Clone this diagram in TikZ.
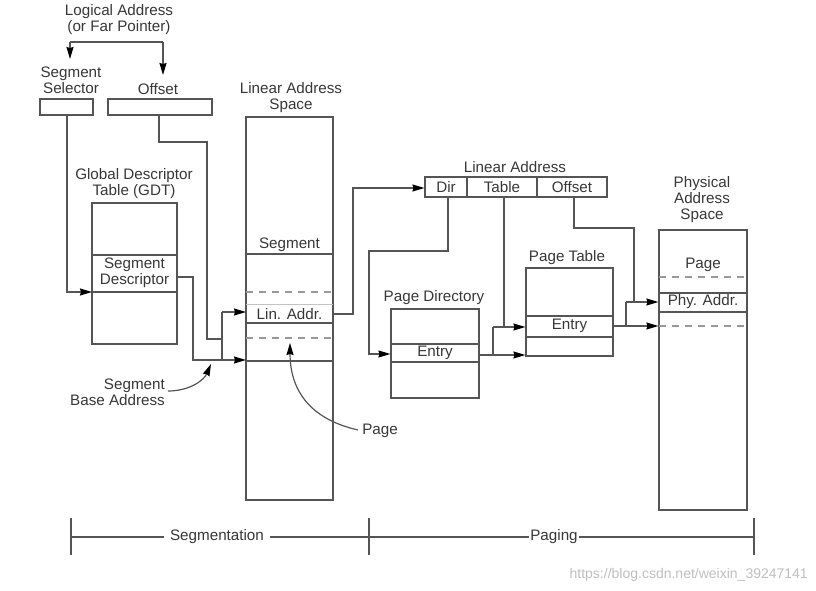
\documentclass[tikz,border=0pt]{standalone}
\usepackage{fontspec}
\setmainfont{Liberation Sans}
\usetikzlibrary{arrows.meta}
\definecolor{ln}{RGB}{85,85,85}
\definecolor{tx}{RGB}{55,55,55}
\tikzset{
  every node/.style={text=tx, font=\fontsize{15.2}{16}\selectfont},
  lbl/.style={align=center, inner sep=0pt},
  box/.style={draw=ln, line width=1.2pt, rectangle, inner sep=0pt},
  wire/.style={draw=ln, line width=1.2pt},
  arr/.style={wire, -{Stealth[length=12pt,width=7pt,inset=1pt,color=black,fill=black]}},
  row/.style={draw=ln, line width=1.2pt},
  dashrow/.style={draw=ln!60, line width=1.2pt, dash pattern=on 7pt off 6pt},
  thinrow/.style={draw=ln!35, line width=1pt},
}
\begin{document}
\begin{tikzpicture}[x=1pt,y=-1pt]
\useasboundingbox (0,0) rectangle (816,591);

% ---------- logical address ----------
\node[lbl] (logical) at (119,20) {Logical Address\\(or Far Pointer)};
\coordinate (bl) at (70,42);
\coordinate (br) at (163,42);
\node[lbl] (sellabel) at (71,80) {Segment\\Selector};
\node[lbl] (offlabel) at (158,89) {Offset};
\node[box, minimum width=53pt, minimum height=16pt] (selbox) at (66.5,107) {};
\node[box, minimum width=104pt, minimum height=16pt] (offbox) at (160,107) {};
\draw[wire] (bl) -- (br);
\draw[arr] (bl) -- (70,59);
\draw[arr] (br) -- (163,75);

% ---------- GDT ----------
\node[lbl] (gdtlabel) at (134,184) {Global Descriptor\\Table (GDT)};
\node[box, minimum width=85pt, minimum height=141pt] (gdt) at (134.5,273.5) {};
\draw[row] (92,255) -- (177,255);
\draw[row] (92,292) -- (177,292);
\node[lbl] (segdesc) at (134.5,273) {Segment\\Descriptor};
\coordinate (gdtin) at (92,292);
\coordinate (gdtout) at (177,277);

% ---------- linear address space ----------
\node[lbl] (laslabel) at (291,98) {Linear Address\\Space};
\node[box, minimum width=87pt, minimum height=383pt] (las) at (289.5,308.5) {};
\draw[row] (246,254) -- (333,254);
\draw[dashrow] (246,292) -- (333,292);
\draw[thinrow] (246,304) -- (333,304);
\draw[row] (246,323) -- (333,323);
\draw[dashrow] (246,338) -- (333,338);
\draw[row] (246,361) -- (333,361);
\node[lbl] (lassegment) at (289.5,245) {Segment};
\node[lbl] (laslin) at (289.5,314) {Lin. Addr.};
\coordinate (lasin1) at (246,312);
\coordinate (lasin2) at (246,360);
\coordinate (lasout) at (333,314);

% selector -> GDT
\draw[arr] (selbox.south -| 67,0) -- (67,292) -- (gdtin);
% offset path
\draw[wire] (offbox.south -| 159,0) -- (159,142) -- (207,142) -- (207,339) -- (222,339);
% descriptor -> base
\draw[arr] (gdtout) -- (193,277) -- (193,360) -- (lasin2);
\draw[wire] (222,312) -- (222,360);
\draw[arr] (222,312) -- (lasin1);

% segment base address label
\node[lbl, align=right, anchor=east] (sba) at (165,392) {Segment\\Base Address};
\draw[arr] (sba.east) ++(3,-1) .. controls (190,391) and (204,380) .. (211,364);

% page label
\node[lbl] (pagelbl) at (380,431) {Page};
\draw[arr] (pagelbl.west) ++(-4,-1) .. controls (305,418) and (290,385) .. (290,343);

% ---------- linear address ----------
\node[lbl] (lalabel) at (515,167) {Linear Address};
\node[box, minimum width=42pt, minimum height=20pt] (dir) at (446,187) {Dir};
\node[box, minimum width=70pt, minimum height=20pt] (table) at (502,187) {Table};
\node[box, minimum width=70pt, minimum height=20pt] (loff) at (572,187) {Offset};
\draw[arr] (lasout) -- (353,314) -- (353,188) -- (dir.west |- 0,188);

% ---------- page directory ----------
\node[lbl] (pdlabel) at (434,298) {Page Directory};
\node[box, minimum width=88pt, minimum height=89pt] (pd) at (435,353.5) {};
\draw[row] (391,344) -- (479,344);
\draw[row] (391,362) -- (479,362);
\node[lbl] (pdentry) at (435,353) {Entry};
\draw[arr] (dir.south -| 448,0) -- (448,251) -- (369,251) -- (369,354) -- (pd.west |- 0,354);

% ---------- page table ----------
\node[lbl] (ptlabel) at (567,258) {Page Table};
\node[box, minimum width=87pt, minimum height=88pt] (pt) at (569.5,312) {};
\draw[row] (526,316) -- (613,316);
\draw[row] (526,337) -- (613,337);
\node[lbl] (ptentry) at (569.5,326) {Entry};
\draw[arr] (pd.east |- 0,355) -- (pt.west |- 0,355);
\draw[wire] (493,355) -- (493,327);
\draw[arr] (493,327) -- (pt.west |- 0,327);
\draw[wire] (table.south -| 504,0) -- (504,327);

% ---------- physical address space ----------
\node[lbl] (paslabel) at (702,200) {Physical\\Address\\Space};
\node[box, minimum width=88pt, minimum height=280pt] (pas) at (703,370) {};
\draw[dashrow] (659,277) -- (747,277);
\draw[row] (659,293) -- (747,293);
\draw[row] (659,312) -- (747,312);
\draw[dashrow] (659,326) -- (747,326);
\node[lbl] (paspage) at (703,265) {Page};
\node[lbl] (pasphy) at (703,302) {Phy. Addr.};
\draw[arr] (pt.east |- 0,326) -- (pas.west |- 0,326);
\draw[wire] (626,326) -- (626,302);
\draw[arr] (626,302) -- (pas.west |- 0,302);
\draw[wire] (loff.south -| 574,0) -- (574,228) -- (634,228) -- (634,302);

% ---------- bottom scale ----------
\coordinate (t1) at (71,537);
\coordinate (t2) at (369,537);
\coordinate (t3) at (754,537);
\draw[wire] (t1) -- (t3);
\draw[wire] (71,518) -- (71,555);
\draw[wire] (369,518) -- (369,555);
\draw[wire] (754,518) -- (754,555);
\node[fill=white, inner xsep=6pt, inner ysep=3pt] (segm) at (217,537) {Segmentation};
\node[fill=white, inner xsep=1pt, inner ysep=3pt] (paging) at (554,537) {Paging};

% watermark
\node[anchor=base east, inner sep=0pt, text=black!25, font=\fontsize{14}{16}\selectfont] (wm) at (808,578) {https://blog.csdn.net/weixin\_39247141};
\end{tikzpicture}
\end{document}
